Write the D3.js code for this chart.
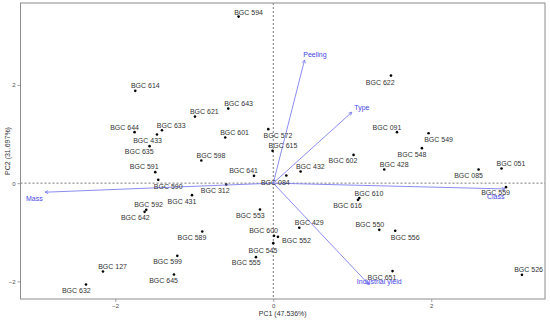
<!DOCTYPE html>
<html><head><meta charset="utf-8">
<script src="https://cdn.jsdelivr.net/npm/d3@7"></script>
<style>body{margin:0;background:#fff}</style>
</head><body>
<svg id="c" width="550" height="320"></svg>
<script>
// ---- data ----
const names = ["BGC 614","BGC 644","BGC 633","BGC 433","BGC 635","BGC 591","BGC 590","BGC 431","BGC 592","BGC 642",
"BGC 589","BGC 599","BGC 645","BGC 127","BGC 632","BGC 594","BGC 643","BGC 621","BGC 601","BGC 572",
"BGC 615","BGC 598","BGC 641","BGC 312","BGC 084","BGC 432","BGC 602","BGC 622","BGC 091","BGC 548",
"BGC 428","BGC 549","BGC 085","BGC 051","BGC 559","BGC 610","BGC 616","BGC 550","BGC 556","BGC 651",
"BGC 526","BGC 429","BGC 553","BGC 600","BGC 552","BGC 545","BGC 555"];
const pc1 = [-1.747,-1.756,-1.409,-1.472,-1.566,-1.494,-1.456,-1.029,-1.608,-1.629,
-0.899,-1.215,-1.257,-2.156,-2.371,-0.439,-0.570,-0.991,-0.608,-0.063,
-0.009,-0.911,-0.244,-0.595,0.165,0.346,1.016,1.490,1.566,1.882,
1.405,1.966,2.599,2.890,2.946,1.089,1.072,1.342,1.544,1.510,
3.148,0.329,-0.168,0.009,0.059,0.000,-0.219];
const pc2 = [1.880,1.039,1.079,0.990,0.754,0.224,0.067,-0.244,-0.544,-0.585,
-0.986,-1.481,-1.862,-1.800,-2.065,3.393,1.519,1.356,0.929,1.100,
0.658,0.460,0.149,-0.029,0.155,0.236,0.576,2.191,1.039,0.713,
0.277,1.018,0.277,0.297,-0.081,-0.305,-0.340,-0.951,-0.971,-1.792,
-1.868,-0.910,-0.538,-1.073,-1.094,-1.222,-1.507];
const varNames = ["Peeling","Type","Mass","Class","Industrial yield"];
const varPC1 = [0.396,0.995,-2.89,2.933,1.215];
const varPC2 = [2.51,1.446,-0.185,-0.118,-2.071];
const xTicks = [-2,0,2];
const yTicks = [-2,0,2];
const xTitle = "PC1 (47.536%)";
const yTitle = "PC2 (31.697%)";

// ---- layout (label nudges in px, not data) ----
const labelNudge = {
"BGC 614":[10,-5],"BGC 644":[-10,-5],"BGC 633":[9.3,-5],"BGC 433":[-9.4,6],"BGC 635":[-10.3,5.7],
"BGC 591":[-11,-5.3],"BGC 590":[10,6.7],"BGC 431":[-10,6.4],"BGC 592":[2.3,-5.7],"BGC 642":[-9.3,5.7],
"BGC 589":[-10.3,5.6],"BGC 599":[-9.7,5.7],"BGC 645":[-10.4,5.6],"BGC 127":[9.6,-5],"BGC 632":[-9.7,6.3],
"BGC 594":[10,-4.4],"BGC 643":[10.3,-4.7],"BGC 621":[9.3,-5.4],"BGC 601":[9.3,-5],"BGC 572":[9.7,6.4],
"BGC 615":[10.4,-5],"BGC 598":[9.7,-4.7],"BGC 641":[-10.4,-5],"BGC 312":[-11,5.6],"BGC 084":[-11,6.6],
"BGC 432":[9.7,-5],"BGC 602":[-10.6,5.7],"BGC 622":[-10.7,6.6],"BGC 091":[-10,-4.6],"BGC 548":[-10,6],
"BGC 428":[10,-5],"BGC 549":[10,6.7],"BGC 085":[-10,6.3],"BGC 051":[9.4,-5.4],"BGC 559":[-10.4,5.7],
"BGC 610":[9.7,-5],"BGC 616":[-10.4,6],"BGC 550":[-9.5,-5],"BGC 556":[10,6.3],"BGC 651":[-10.6,6],
"BGC 526":[6.6,-5],"BGC 429":[10,-5],"BGC 553":[-9.7,6],"BGC 600":[-10.4,-5.3],"BGC 552":[18.5,4],
"BGC 545":[-10.3,7],"BGC 555":[-9.7,5.7]
};
const varNudge = {"Peeling":[10.4,-5],"Type":[10,-5],"Mass":[-10.7,6],"Class":[-9.3,7.7],"Industrial yield":[10,-3.3]};

const L=20.5,R=545,T=3,B=299;
const svg=d3.select("#c");
const x=d3.scaleLinear().domain([-3.2,3.44]).range([L,R]);
const y=d3.scaleLinear().domain([3.67,-2.36]).range([T,B]);
const font="Liberation Sans, Arial, sans-serif";

// zero lines
svg.append("line").attr("x1",x(0)).attr("x2",x(0)).attr("y1",T).attr("y2",B)
  .attr("stroke","#555").attr("stroke-width",0.8).attr("stroke-dasharray","2,2");
svg.append("line").attr("x1",L).attr("x2",R).attr("y1",y(0)).attr("y2",y(0))
  .attr("stroke","#555").attr("stroke-width",0.8).attr("stroke-dasharray","2,2");

// axes
const xa=svg.append("g").attr("transform",`translate(0,${B})`)
  .call(d3.axisBottom(x).tickValues(xTicks).tickSize(3).tickPadding(2).tickFormat(d3.format("d")));
const ya=svg.append("g").attr("transform",`translate(${L},0)`)
  .call(d3.axisLeft(y).tickValues(yTicks).tickSize(3).tickPadding(2).tickFormat(d3.format("d")));
[xa,ya].forEach(g=>{g.select(".domain").remove();
  g.selectAll(".tick line").attr("stroke","#666").attr("stroke-width",0.6);
  g.selectAll(".tick text").attr("fill","#4d4d4d").style("font-family",font).style("font-size","6px");});

// panel border
svg.append("rect").attr("x",L).attr("y",T).attr("width",R-L).attr("height",B-T)
  .attr("fill","none").attr("stroke","#8c8c8c").attr("stroke-width",1);

// points
const pts=names.map((n,i)=>({n,x:pc1[i],y:pc2[i]}));
svg.append("g").selectAll("circle").data(pts).join("circle")
  .attr("cx",d=>x(d.x)).attr("cy",d=>y(d.y)).attr("r",1.3).attr("fill","#000");

// arrows
const vars=varNames.map((n,i)=>({n,x:varPC1[i],y:varPC2[i]}));
const ag=svg.append("g");
vars.forEach(v=>{
  const x0=x(0),y0=y(0),x1=x(v.x),y1=y(v.y);
  ag.append("line").attr("x1",x0).attr("y1",y0).attr("x2",x1).attr("y2",y1)
    .attr("stroke","#7f7ff0").attr("stroke-width",0.9);
  const a=Math.atan2(y1-y0,x1-x0), h=3.5, w=0.45;
  [a+Math.PI-w,a+Math.PI+w].forEach(b=>{
    ag.append("line").attr("x1",x1).attr("y1",y1)
      .attr("x2",x1+h*Math.cos(b)).attr("y2",y1+h*Math.sin(b))
      .attr("stroke","#7f7ff0").attr("stroke-width",0.9);
  });
});

// point labels
svg.append("g").selectAll("text").data(pts).join("text")
  .attr("x",d=>x(d.x)+labelNudge[d.n][0]).attr("y",d=>y(d.y)+labelNudge[d.n][1])
  .attr("text-anchor","middle").attr("dominant-baseline","central")
  .attr("fill","#333").style("font-family",font).style("font-size","7px").text(d=>d.n);

// variable labels
svg.append("g").selectAll("text").data(vars).join("text")
  .attr("x",d=>x(d.x)+varNudge[d.n][0]).attr("y",d=>y(d.y)+varNudge[d.n][1])
  .attr("text-anchor","middle").attr("dominant-baseline","central")
  .attr("fill","#4646e6").style("font-family",font).style("font-size","7px").text(d=>d.n);

// titles
svg.append("text").attr("x",(L+R)/2).attr("y",313).attr("text-anchor","middle")
  .attr("dominant-baseline","central").attr("fill","#333").style("font-family",font).style("font-size","7px").text(xTitle);
svg.append("text").attr("transform",`translate(7,${(T+B)/2}) rotate(-90)`).attr("text-anchor","middle")
  .attr("dominant-baseline","central").attr("fill","#333").style("font-family",font).style("font-size","7px").text(yTitle);
</script>
</body></html>
